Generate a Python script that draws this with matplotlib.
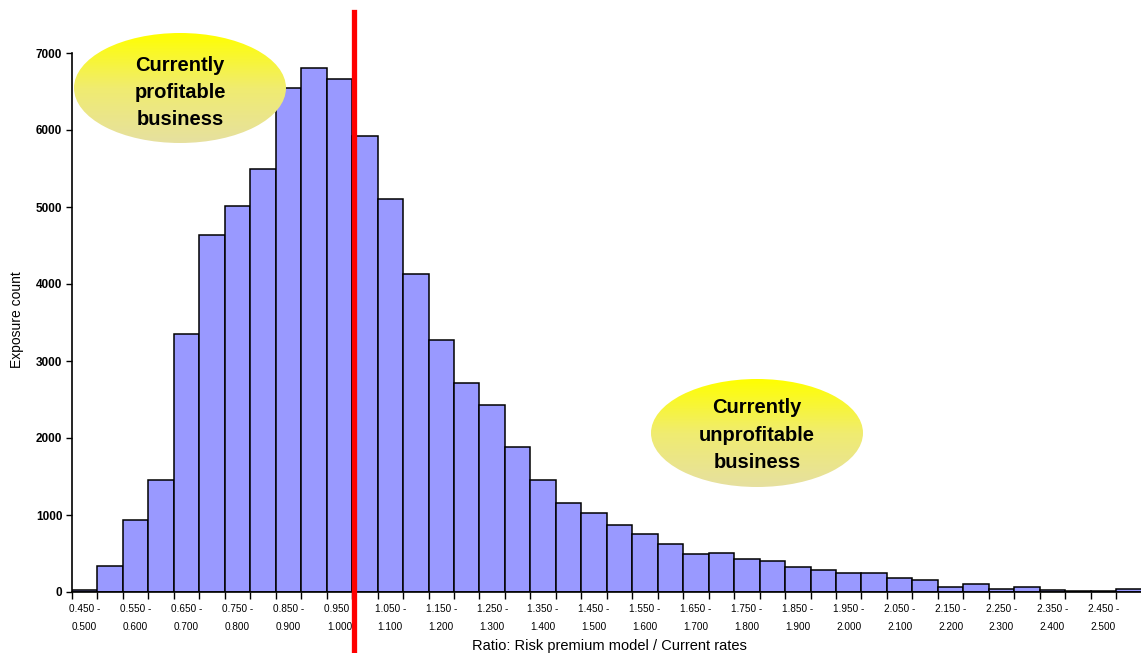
import numpy as np
import matplotlib
matplotlib.use('Agg')
import matplotlib.pyplot as plt
from matplotlib.patches import Ellipse
from matplotlib.colors import LinearSegmentedColormap

plt.rcParams['font.family'] = ['Liberation Sans', 'DejaVu Sans']

# exposure count per ratio band (width 0.05, starting at 0.450 - 0.500)
counts = [20, 340, 935, 1455, 3350, 4630, 5010, 5500, 6550, 6810,
          6665, 5925, 5105, 4130, 3275, 2715, 2425, 1885, 1455, 1160,
          1030, 870, 750, 620, 500, 510, 435, 400, 320, 280,
          245, 245, 185, 150, 70, 105, 40, 60, 25, 12,
          12, 45]

# only every other band gets a label
tick_labels = ['0.450 -\n0.500', '0.550 -\n0.600', '0.650 -\n0.700', '0.750 -\n0.800',
               '0.850 -\n0.900', '0.950 -\n1.000', '1.050 -\n1.100', '1.150 -\n1.200',
               '1.250 -\n1.300', '1.350 -\n1.400', '1.450 -\n1.500', '1.550 -\n1.600',
               '1.650 -\n1.700', '1.750 -\n1.800', '1.850 -\n1.900', '1.950 -\n2.000',
               '2.050 -\n2.100', '2.150 -\n2.200', '2.250 -\n2.300', '2.350 -\n2.400',
               '2.450 -\n2.500']

break_even = 11.08  # ratio = 1.000

W, H = 1141, 653
fig = plt.figure(figsize=(W / 100, H / 100), dpi=100)
ax = fig.add_axes([72 / W, (H - 592) / H, (W - 71.4) / W, 539 / H])

x = np.arange(len(counts))
ax.bar(x, counts, width=1.0, align='edge', color='#9999FF', edgecolor='black', linewidth=1.1, zorder=2)

ax.set_xlim(0, (W - 71.4) / 25.64)
ax.set_ylim(0, 7000)
ax.set_yticks(np.arange(0, 7001, 1000))
ax.tick_params(axis='y', direction='out', length=4, width=1, labelsize=8.5, pad=3)
for t in ax.get_yticklabels():
    t.set_fontweight('bold')

ax.set_xticks(np.arange(0, 43, 1))
ax.set_xticklabels([])
ax.set_xticks(np.arange(0, 41, 2) + 0.5, minor=True)
ax.set_xticklabels(tick_labels, minor=True, fontsize=7.2, linespacing=2.0)
ax.tick_params(axis='x', which='major', direction='out', length=5, width=1)
ax.tick_params(axis='x', which='minor', length=0, pad=9)

for s in ['top', 'right']:
    ax.spines[s].set_visible(False)
ax.spines['left'].set_linewidth(1.2)
ax.spines['bottom'].set_linewidth(1.2)

ax.axvline(break_even, ymin=-0.12, ymax=1.076, color='#FF0000', linewidth=3.8, clip_on=False, zorder=10)

fig.text(609 / W, 1 - 646 / H, 'Ratio: Risk premium model / Current rates', ha='center', va='center', fontsize=10.5)
fig.text(17 / W, 1 - 320 / H, 'Exposure count', ha='center', va='center', rotation=90, fontsize=10)

# yellow gradient bubbles
cmap = LinearSegmentedColormap.from_list('bub', ['#E6E0A0', '#F0EC70', '#FFFF00'])
grad = np.linspace(0, 1, 256).reshape(-1, 1)


def bubble(cx, cy, w, h, text, ty):
    bax = fig.add_axes([(cx - w / 2) / W, 1 - (cy + h / 2) / H, w / W, h / H])
    bax.axis('off')
    el = Ellipse((0.5, 0.5), 1, 1, transform=bax.transAxes, facecolor='none', edgecolor='none')
    bax.add_patch(el)
    im = bax.imshow(grad, extent=[0, 1, 0, 1], origin='lower', aspect='auto', cmap=cmap)
    im.set_clip_path(el)
    bax.set_xlim(0, 1)
    bax.set_ylim(0, 1)
    bax.text(0.5, ty, text, ha='center', va='center', fontsize=14.5, fontweight='bold',
             linespacing=1.55, transform=bax.transAxes)


bubble(180, 88, 212, 110, 'Currently\nprofitable\nbusiness', 0.46)
bubble(757, 433, 212, 108, 'Currently\nunprofitable\nbusiness', 0.48)

fig.savefig('out.png', dpi=100)
